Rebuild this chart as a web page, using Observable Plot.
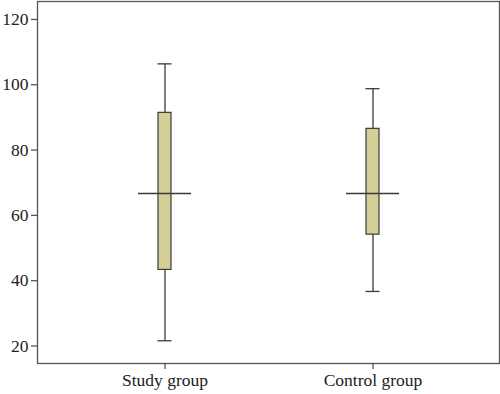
<!DOCTYPE html>
<html>
<head>
<meta charset="utf-8">
<script src="https://cdn.jsdelivr.net/npm/d3@7"></script>
<script src="https://cdn.jsdelivr.net/npm/@observablehq/plot@0.6"></script>
<style>
  body { margin: 0; background: #fff; }
  #chart { width: 500px; height: 394px; }
</style>
</head>
<body>
<div id="chart"></div>
<script>
const groups = ["Study group", "Control group"];
const whiskerLow = [21.6, 36.7];
const q1 = [43.3, 54.1];
const median = [66.7, 66.7];
const q3 = [91.4, 86.5];
const whiskerHigh = [106.4, 98.8];
const yTicks = [20, 40, 60, 80, 100, 120];

const data = groups.map((g, i) => ({
  group: g, lo: whiskerLow[i], q1: q1[i], med: median[i], q3: q3[i], hi: whiskerHigh[i]
}));

const stroke = "#3a3a3a";
const chart = Plot.plot({
  width: 500,
  height: 394,
  marginLeft: 37,
  marginRight: 1,
  marginTop: 1,
  marginBottom: 31,
  style: { fontFamily: "'Liberation Serif', serif", fontSize: "17.5px", color: "#222", background: "#fff" },
  x: { type: "band", domain: groups, paddingInner: 0.9375, paddingOuter: 0.579, label: null },
  y: { domain: [14.64, 125.5], ticks: yTicks, label: null },
  marks: [
    Plot.frame({ stroke: "#555", strokeWidth: 1.3 }),
    Plot.axisX({ tickSize: 6, tickPadding: 4.5, stroke: "#555", strokeWidth: 1.3, fontSize: 17.5 }),
    Plot.axisY({ ticks: yTicks, tickSize: 6, tickPadding: 3, stroke: "#555", strokeWidth: 1.3, fontSize: 17.5 }),
    Plot.ruleX(data, { x: "group", y1: "lo", y2: "hi", stroke: stroke, strokeWidth: 1.3 }),
    Plot.barY(data, { x: "group", y1: "q1", y2: "q3", fill: "#d4cf96", stroke: stroke, strokeWidth: 1.2 }),
    Plot.tickY(data, { x: "group", y: "med", stroke: stroke, strokeWidth: 1.3, insetLeft: -20, insetRight: -20 }),
    Plot.tickY(data, { x: "group", y: "lo", stroke: stroke, strokeWidth: 1.3, insetLeft: -0.5, insetRight: -0.5 }),
    Plot.tickY(data, { x: "group", y: "hi", stroke: stroke, strokeWidth: 1.3, insetLeft: -0.5, insetRight: -0.5 })
  ]
});
document.getElementById("chart").appendChild(chart);
</script>
</body>
</html>
